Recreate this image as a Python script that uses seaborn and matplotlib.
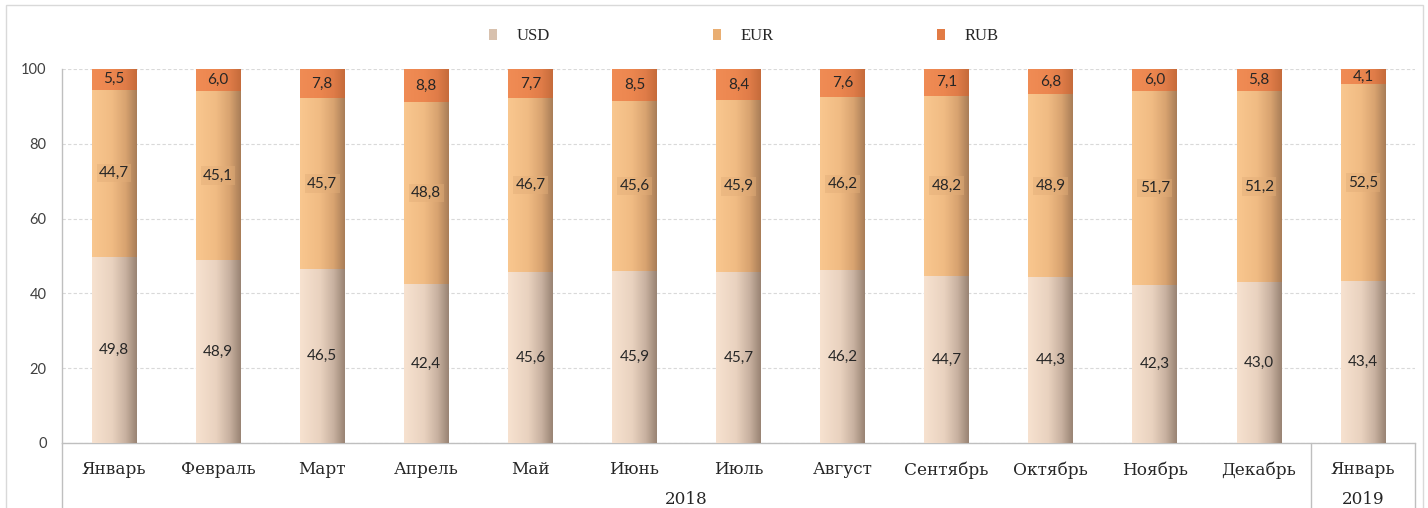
import numpy as np
import pandas as pd
import matplotlib
matplotlib.use("Agg")
import matplotlib.pyplot as plt
import matplotlib.colors as mcolors
from matplotlib.patches import Patch, Rectangle
from matplotlib.lines import Line2D
import matplotlib.transforms as mtransforms
import seaborn as sns

# ---------------- data ----------------
months = ["Январь", "Февраль", "Март", "Апрель", "Май", "Июнь", "Июль",
          "Август", "Сентябрь", "Октябрь", "Ноябрь", "Декабрь", "Январь"]
years = ["2018"] * 12 + ["2019"]
usd = [49.8, 48.9, 46.5, 42.4, 45.6, 45.9, 45.7, 46.2, 44.7, 44.3, 42.3, 43.0, 43.4]
eur = [44.7, 45.1, 45.7, 48.8, 46.7, 45.6, 45.9, 46.2, 48.2, 48.9, 51.7, 51.2, 52.5]
rub = [5.5, 6.0, 7.8, 8.8, 7.7, 8.5, 8.4, 7.6, 7.1, 6.8, 6.0, 5.8, 4.1]
series_names = ["USD", "EUR", "RUB"]

keys = [f"{m} {y}" for m, y in zip(months, years)]
df = pd.DataFrame({"key": keys, "USD": usd, "EUR": eur, "RUB": rub})
df["top_eur"] = df["USD"] + df["EUR"]
df["total"] = (df["top_eur"] + df["RUB"]).clip(upper=100)

# ---------------- style ----------------
sns.set_theme(style="white")
SANS = ["Lato", "DejaVu Sans"]
SERIF = ["DejaVu Serif"]
plt.rcParams["font.family"] = SANS

grad = {
    "USD": ["#f7e2d0", "#e9d2bf", "#c8b1a0", "#988373"],
    "EUR": ["#f9c78f", "#f0bb83", "#d8a370", "#a87d57"],
    "RUB": ["#f08c55", "#ec864f", "#df7c48", "#c56b3b"],
}
legend_col = {"USD": "#d8c1ae", "EUR": "#e9ae72", "RUB": "#e27b45"}

W, H = 1428, 508
fig = plt.figure(figsize=(W / 100, H / 100), dpi=100)
ax = fig.add_axes([62 / W, 1 - 443 / H, (1415 - 62) / W, 374 / H])

bw = 0.43
sns.barplot(data=df, x="key", y="total", color=legend_col["RUB"], width=bw,
            ax=ax, zorder=2)
sns.barplot(data=df, x="key", y="top_eur", color=legend_col["EUR"], width=bw,
            ax=ax, zorder=2)
sns.barplot(data=df, x="key", y="USD", color=legend_col["USD"], width=bw,
            ax=ax, zorder=2)

n = len(df)
patches = list(ax.patches)
layers = {"RUB": patches[0:n], "EUR": patches[n:2 * n], "USD": patches[2 * n:3 * n]}
zo = {"RUB": 3, "EUR": 4, "USD": 5}

for name, plist in layers.items():
    cmap = mcolors.LinearSegmentedColormap.from_list(
        name, list(zip([0, 0.45, 0.75, 1.0], grad[name])))
    g = np.linspace(0, 1, 256).reshape(1, -1)
    for p in plist:
        x0, y0 = p.get_x(), p.get_y()
        w, h = p.get_width(), p.get_height()
        im = ax.imshow(g, cmap=cmap, aspect="auto", extent=(x0, x0 + w, y0, y0 + h),
                       zorder=zo[name], interpolation="bicubic")
        im.set_clip_path(p)
        p.set_facecolor("none")
        p.set_edgecolor("none")

# data labels
def fmt(v):
    return f"{v:.1f}".replace(".", ",")

for i, p in enumerate(layers["USD"]):
    cx = p.get_x() + p.get_width() / 2
    u, e, r = df["USD"][i], df["EUR"][i], df["RUB"][i]
    ax.text(cx, u / 2, fmt(u), ha="center", va="center", fontsize=11,
            color="#262626", zorder=10)
    ax.text(cx, u + e / 2, fmt(e), ha="center", va="center", fontsize=11,
            color="#262626", zorder=10,
            bbox=dict(boxstyle="square,pad=0.15", fc="#e2ad78", ec="none", alpha=0.45))
    ax.text(cx, u + e + (100 - u - e) / 2, fmt(r), ha="center", va="center",
            fontsize=11, color="#262626", zorder=10)

ax.set_xlim(-0.5, n - 0.5)
ax.set_ylim(0, 100)
ax.set_yticks([0, 20, 40, 60, 80, 100])
ax.yaxis.grid(True, color="#d9d9d9", linestyle=(0, (3, 2)), linewidth=0.8, zorder=0)
ax.set_axisbelow(True)
ax.set_xlabel("")
ax.set_ylabel("")
ax.set_xticks(range(n))
ax.set_xticklabels(months, fontfamily=SERIF, fontsize=12.2, color="#262626")
ax.tick_params(axis="x", length=0, pad=13)
ax.tick_params(axis="y", length=0, pad=11, labelsize=10.5, labelcolor="#404040")

for s in ["top", "right"]:
    ax.spines[s].set_visible(False)
for s in ["left", "bottom"]:
    ax.spines[s].set_color("#bfbfbf")
    ax.spines[s].set_linewidth(1.0)

# multi-level category separators
trans = mtransforms.blended_transform_factory(ax.transData, ax.transAxes)
ext = -(H - 443 + 5) / 374
for xs in [-0.5, 11.5, n - 0.5]:
    ax.add_line(Line2D([xs, xs], [0, ext], transform=trans, color="#bfbfbf",
                       lw=1.0, clip_on=False))
ax.text(5.5, -(499 - 443) / 374, "2018", transform=trans, ha="center", va="center",
        fontfamily=SERIF, fontsize=12.2, color="#262626")
ax.text(12, -(499 - 443) / 374, "2019", transform=trans, ha="center", va="center",
        fontfamily=SERIF, fontsize=12.2, color="#262626")

# legend
handles = [Patch(facecolor=legend_col[s], edgecolor="none", label=s) for s in series_names]
leg = ax.legend(handles=handles, loc="center", bbox_to_anchor=(0.504, 1.088),
                ncol=3, frameon=False, handlelength=0.45, handleheight=0.6,
                handletextpad=1.2, columnspacing=9.8,
                prop={"family": "Liberation Serif", "size": 12})
for t in leg.get_texts():
    t.set_color("#262626")

# outer border
fig.patches.append(Rectangle((6 / W, -0.05), (W - 11) / W, 1.05 - 5 / H,
                             transform=fig.transFigure, fill=False,
                             edgecolor="#d9d9d9", lw=1.0))

fig.savefig("out.png", dpi=100, facecolor="white")
